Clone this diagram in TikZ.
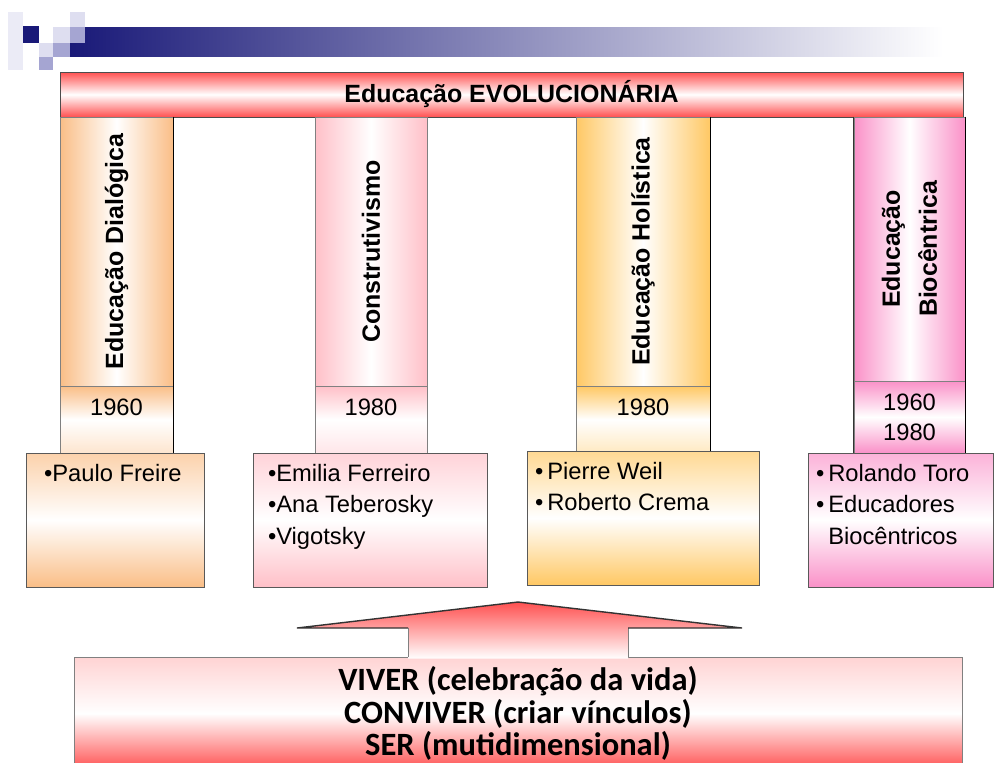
\documentclass[tikz,border=0pt]{standalone}
\usepackage{fontspec}
\setmainfont{Liberation Sans}
\newfontfamily\calfont{Carlito}
\usepackage{tikz}
\usetikzlibrary{positioning}

\definecolor{orgC}{RGB}{250,190,135}
\definecolor{pinkC}{RGB}{255,192,200}
\definecolor{goldC}{RGB}{255,200,100}
\definecolor{magC}{RGB}{250,145,200}
\definecolor{redC}{RGB}{255,80,80}
\definecolor{navyC}{RGB}{25,25,120}
\definecolor{lavL}{RGB}{222,222,240}
\definecolor{lavM}{RGB}{165,165,210}

\tikzset{
  header/.style={rectangle, draw=gray!60!black, top color=redC, bottom color=redC, middle color=white,
    minimum width=18.06cm, minimum height=0.9cm, inner sep=0pt, font=\fontsize{14.2}{16}\selectfont\bfseries},
  coltitle/.style={rectangle, draw=gray, left color=#1, right color=#1, middle color=white,
    minimum height=5.38cm, inner sep=0pt},
  colyear/.style={rectangle, draw=gray, top color=#1, bottom color=#1!40, middle color=white,
    minimum height=1.34cm, inner sep=0pt},
  namebox/.style={rectangle, draw=gray!70!black, top color=#1!70, bottom color=#1, middle color=white,
    minimum height=2.68cm, inner sep=0pt},
  vtitle/.style={rotate=90, inner sep=0pt, align=center, font=\fontsize{14.2}{21}\selectfont\bfseries},
  yeartxt/.style={inner sep=0pt, align=center, font=\fontsize{13.5}{17}\selectfont},
  names/.style={inner sep=0pt, align=left, font=\fontsize{13.5}{18}\selectfont},
  basebox/.style={rectangle, draw=gray, top color=redC!25, bottom color=redC, middle color=white,
    minimum width=17.76cm, minimum height=2.26cm, inner sep=0pt},
}

\begin{document}
\begin{tikzpicture}[x=0.02cm, y=-0.02cm]
\clip (0,0) rectangle (996,762);

% squares and bar on top
\shade[left color=navyC, right color=white] (70,27) rectangle (943,56);
\fill[lavL!60] (8,12) rectangle (23,70);
\fill[navyC] (23,26) rectangle (39,43);
\fill[lavL] (53,27) rectangle (70,43);
\fill[lavL] (70,12) rectangle (85,27);
\fill[lavM] (70,27) rectangle (85,43);
\fill[lavL] (39,43) rectangle (53,57);
\fill[lavM] (53,43) rectangle (70,57);
\fill[lavM] (39,57) rectangle (53,70);

\node[header] (evol) at (511.5,94.5) {Educação EVOLUCIONÁRIA};

% columns
\node[coltitle=orgC, minimum width=2.26cm] (dial) at (116.5,251.5) {};
\node[colyear=orgC, minimum width=2.26cm] (dialY) at (116.5,419.5) {};
\node[coltitle=pinkC, minimum width=2.24cm] (cons) at (371,251.5) {};
\node[colyear=pinkC, minimum width=2.24cm] (consY) at (371,419.5) {};
\node[coltitle=goldC, minimum width=2.68cm] (holi) at (643,251.5) {};
\node[colyear=goldC, minimum width=2.68cm] (holiY) at (643,419.5) {};
\node[coltitle=magC, minimum width=2.22cm, minimum height=5.28cm] (bioc) at (909.5,249) {};
\node[rectangle, draw=gray, top color=magC, bottom color=magC, middle color=white, inner sep=0pt,
  minimum width=2.22cm, minimum height=1.44cm] (biocY) at (909.5,417) {};

\draw[black, thick] (dial.north east) -- (dialY.south east);
\draw[black] (holi.north east) -- (holiY.south east);
\draw[black] (bioc.north east) -- (biocY.south east);
\draw[black!80] (bioc.north west) -- (biocY.south west);

\node[vtitle] (dialT) at (dial) {Educação Dialógica};
\node[vtitle] (consT) at (cons) {Construtivismo};
\node[vtitle] (holiT) at (holi) {Educação Holística};
\node[vtitle] (biocT) at (bioc) {Educação\\Biocêntrica};

\node[yeartxt, below=0.26cm of dialY.north] (dialYT) {1960};
\node[yeartxt, below=0.26cm of consY.north] (consYT) {1980};
\node[yeartxt, below=0.26cm of holiY.north] (holiYT) {1980};
\node[yeartxt] (biocYT) at (biocY) {1960\\1980};

% boxes with names
\node[namebox=orgC, minimum width=3.56cm] (dialN) at (115,520) {};
\node[namebox=pinkC, minimum width=4.68cm] (consN) at (370,520) {};
\node[namebox=goldC, minimum width=4.64cm] (holiN) at (643,518) {};
\node[namebox=magC, minimum width=3.70cm] (biocN) at (900.5,520) {};

\node[names, below right=0.22cm and 0.36cm of dialN.north west] (dialNT) {•Paulo Freire};
\node[names, below right=0.22cm and 0.3cm of consN.north west] (consNT) {•Emilia Ferreiro\\•Ana Teberosky\\•Vigotsky};
\node[names, below right=0.22cm and 0.16cm of holiN.north west] (holiNT) {•\,Pierre Weil\\•\,Roberto Crema};
\node[names, below right=0.22cm and 0.16cm of biocN.north west] (biocNT) {•\,Rolando Toro\\•\,Educadores\\\phantom{•\,}Biocêntricos};

% arrow and base
\node[basebox] (base) at (518,713.5) {};
\shade[top color=redC, bottom color=white] (408,658.5) -- (408,628) -- (297,628) -- (518,602)
  -- (742,628) -- (628,628) -- (628,658.5) -- cycle;
\draw[gray] (408,657) -- (408,628);
\draw[gray] (628,657) -- (628,628);
\draw[black!80, thick] (408,628) -- (297,628) -- (518,602) -- (742,628) -- (628,628);
\node[inner sep=0pt, align=center, font=\calfont\fontsize{18.5}{18.5}\selectfont\bfseries] (lema) at (base)
  {VIVER (celebração da vida)\\CONVIVER (criar vínculos)\\SER (mutidimensional)};
\end{tikzpicture}
\end{document}
